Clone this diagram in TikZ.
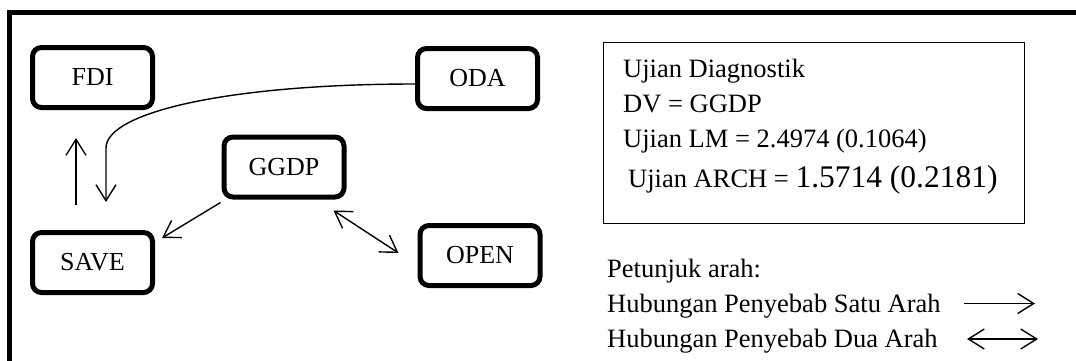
\documentclass[tikz,border=0pt]{standalone}
\usepackage{fontspec}
\setmainfont{Liberation Serif}
\usetikzlibrary{arrows.meta}
\begin{document}
\begin{tikzpicture}[x=1pt,y=-1pt,
  var/.style={draw, line width=5pt, rounded corners=9pt, minimum width=120pt, minimum height=60pt, inner sep=0pt, font=\fontsize{26}{30}\selectfont},
  conn/.style={line width=1.4pt, -{Straight Barb[length=16pt,width=20pt]}},
  dconn/.style={line width=1.4pt, {Straight Barb[length=16pt,width=20pt]}-{Straight Barb[length=16pt,width=20pt]}},
  txt/.style={anchor=base west, inner sep=0pt, font=\fontsize{26.5}{30}\selectfont}]
\useasboundingbox (0,0) rectangle (1076,360);
\fill[white] (0,0) rectangle (1076,360);
\begin{scope}
  \clip (0,0) rectangle (1076,360);
  \draw[line width=5pt] (9.8,400) -- (9.8,12.5) -- (1100,12.5);
\end{scope}
% variable boxes
\node[var] (FDI)  at (92.5,77.5)  {FDI};
\node[var] (SAVE) at (92.5,262.5) {SAVE};
\node[var] (GGDP) at (284,167)    {GGDP};
\node[var] (ODA)  at (477.5,78.5) {ODA};
\node[var] (OPEN) at (480,255.5)  {OPEN};
% connectors
\draw[conn, shorten <=25pt, shorten >=28pt] ([xshift=-16.5pt]SAVE.north) -- ([xshift=-16.5pt]FDI.south);
\draw[conn, shorten >=28pt] ([yshift=-5.5pt]ODA.west) .. controls (230,84) and (106,112) .. (106,148) -- ([xshift=13.5pt]SAVE.north);
\draw[conn] ([shift={(-1,3)}]GGDP.south west) -- ([shift={(7,8)}]SAVE.north east);
\draw[dconn] ([shift={(-13,11)}]GGDP.south east) -- ([shift={(-19,30)}]OPEN.north west);
% diagnostic box
\node[draw, line width=1pt, minimum width=421pt, minimum height=181pt, inner sep=0pt] (diag) at (814,133) {};
\node[txt] (d1) at (623,77)  {Ujian Diagnostik};
\node[txt] (d2) at (623,112) {DV = GGDP};
\node[txt] (d3) at (623,147) {Ujian LM = 2.4974 (0.1064)};
\node[txt] (d4) at (628,187) {Ujian ARCH = {\fontsize{31.5}{36}\selectfont 1.5714 (0.2181)}};
% legend
\node[txt] (l0) at (607,277) {Petunjuk arah:};
\node[txt] (l1) at (607,312) {Hubungan Penyebab Satu Arah};
\node[txt] (l2) at (607,347) {Hubungan Penyebab Dua Arah};
\coordinate (a1s) at (964,303.5);
\coordinate (a1e) at (1035,303.5);
\coordinate (a2s) at (967,339);
\coordinate (a2e) at (1038,339);
\draw[conn] (a1s) -- (a1e);
\draw[dconn] (a2s) -- (a2e);
\end{tikzpicture}
\end{document}
